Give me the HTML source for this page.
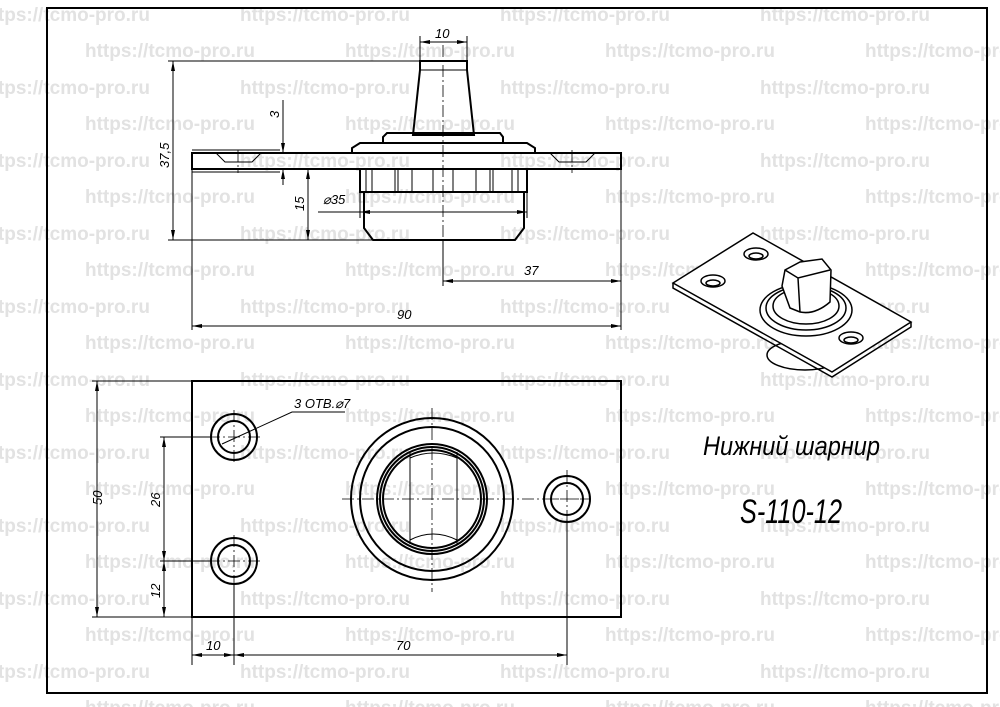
<!DOCTYPE html>
<html><head><meta charset="utf-8"><style>
html,body{margin:0;padding:0;background:#fff;}
svg{display:block;}
.l{stroke:#000;stroke-width:2;fill:none;}
.t{stroke:#000;stroke-width:1;fill:none;}
.c{stroke:#000;stroke-width:0.8;fill:none;stroke-dasharray:12 3 2 3;}
.d{font-family:"Liberation Sans",sans-serif;font-style:italic;font-size:13px;fill:#000;}
</style></head><body>
<svg width="1000" height="707" viewBox="0 0 1000 707" xmlns="http://www.w3.org/2000/svg">
<defs>
<pattern id="wm" patternUnits="userSpaceOnUse" x="0" y="0" width="260" height="73">
<text x="85" y="57" font-family="Liberation Sans,sans-serif" font-weight="bold" font-size="19" fill="#e2e2e2">https://tcmo-pro.ru</text>
<text x="-20" y="21" font-family="Liberation Sans,sans-serif" font-weight="bold" font-size="19" fill="#e2e2e2">https://tcmo-pro.ru</text>
<text x="240" y="21" font-family="Liberation Sans,sans-serif" font-weight="bold" font-size="19" fill="#e2e2e2">https://tcmo-pro.ru</text>
</pattern>
<marker id="a" viewBox="0 0 10 6" refX="10" refY="3" markerWidth="10" markerHeight="6" orient="auto-start-reverse" markerUnits="userSpaceOnUse"><path d="M0,1 L10,3 L0,5z" fill="#000"/></marker>
</defs>
<rect x="0" y="0" width="1000" height="707" fill="url(#wm)"/>
<rect x="47" y="8" width="940" height="685" class="l"/>

<!-- TOP VIEW -->
<rect x="192" y="153" width="429" height="16" class="l"/>
<path class="t" d="M216,153 L225,162 L252,162 L261,153 M550,153 L559,162 L586,162 L595,153"/>
<path class="c" d="M238,150 V173 M572,150 V173"/>
<path class="l" d="M420,61 H467 V70 L474,135 H413 L420,70 Z"/>
<line x1="420" y1="70" x2="467" y2="70" class="t"/>
<path class="l" d="M383,143 V137 L387,133 H500 L503,137 V143"/>
<path class="l" d="M352,153 V148 L360,143 H527 L535,148 V153"/>
<line x1="383" y1="143" x2="503" y2="143" class="t"/>
<rect x="360" y="169" width="167" height="23" class="l"/>
<path class="t" d="M366,169V192 M372,169V192 M395,169V192 M398,169V192 M412,169V192 M433,169V192 M453,169V192 M476,169V192 M490,169V192 M493,169V192 M512,169V192 M518,169V192"/>
<path class="l" d="M364,192 V228 L373,240 H515 L524,228 V192"/>
<path class="c" d="M443,45 V270"/>
<path class="t" d="M420,60 V36 M467,60 V36 M168,61 H420 M168,240 H372 M192,170 V330 M621,170 V330 M443,240 V286 M360,192 V218 M527,192 V218 M280,150 H192 M280,172 H192 M305,240 H300"/>
<line x1="420" y1="42" x2="467" y2="42" class="t" marker-start="url(#a)" marker-end="url(#a)"/>
<line x1="173" y1="61" x2="173" y2="240" class="t" marker-start="url(#a)" marker-end="url(#a)"/>
<line x1="283" y1="100" x2="283" y2="153" class="t" marker-end="url(#a)"/>
<line x1="283" y1="185" x2="283" y2="169" class="t" marker-end="url(#a)"/>
<line x1="308" y1="169" x2="308" y2="240" class="t" marker-start="url(#a)" marker-end="url(#a)"/>
<line x1="318" y1="212" x2="527" y2="212" class="t" marker-end="url(#a)"/>
<path d="M360,212 l10,-2 v4z" fill="#000"/>
<line x1="443" y1="281" x2="621" y2="281" class="t" marker-start="url(#a)" marker-end="url(#a)"/>
<line x1="192" y1="326" x2="621" y2="326" class="t" marker-start="url(#a)" marker-end="url(#a)"/>
<text class="d" x="435" y="38">10</text>
<text class="d" transform="translate(169,168) rotate(-90)">37,5</text>
<text class="d" transform="translate(279,118) rotate(-90)">3</text>
<text class="d" transform="translate(304,211) rotate(-90)">15</text>
<text class="d" x="323" y="204">⌀35</text>
<text class="d" x="524" y="275">37</text>
<text class="d" x="397" y="319">90</text>

<!-- BOTTOM VIEW -->
<rect x="192" y="381" width="429" height="236" class="l"/>
<g class="l">
<circle cx="234" cy="437" r="23"/><circle cx="234" cy="437" r="16"/>
<circle cx="234" cy="561" r="23"/><circle cx="234" cy="561" r="16"/>
<circle cx="567" cy="499" r="23"/><circle cx="567" cy="499" r="16"/>
<circle cx="432" cy="499" r="81"/><circle cx="432" cy="499" r="72"/>
<circle cx="432" cy="499" r="55"/><circle cx="432" cy="499" r="52"/>
<circle cx="432" cy="499" r="49"/>
</g>
<path class="t" d="M410,452 V544 M457,452 V544 M410,458 Q433,448 457,458 M410,540 Q433,528 457,540"/>
<path class="c" d="M342,499 H590 M432,408 V592 M208,437 H262 M208,561 H262 M234,410 V465 M234,535 V590 M545,499 H585 M567,470 V527"/>
<path class="t" d="M160,437 H210 M160,561 H210 M92,381 H192 M92,617 H192 M234,585 V665 M567,520 V665 M192,617 V665"/>
<line x1="97" y1="381" x2="97" y2="617" class="t" marker-start="url(#a)" marker-end="url(#a)"/>
<line x1="164" y1="437" x2="164" y2="561" class="t" marker-start="url(#a)" marker-end="url(#a)"/>
<line x1="164" y1="561" x2="164" y2="617" class="t" marker-start="url(#a)" marker-end="url(#a)"/>
<line x1="192" y1="655" x2="234" y2="655" class="t" marker-start="url(#a)" marker-end="url(#a)"/>
<line x1="234" y1="655" x2="567" y2="655" class="t" marker-start="url(#a)" marker-end="url(#a)"/>
<path class="t" d="M345,412 H292 L222,444"/>
<text class="d" x="294" y="408">3 ОТВ.⌀7</text>
<text class="d" transform="translate(102,505) rotate(-90)">50</text>
<text class="d" transform="translate(160,507) rotate(-90)">26</text>
<text class="d" transform="translate(160,598) rotate(-90)">12</text>
<text class="d" x="206" y="650">10</text>
<text class="d" x="396" y="650">70</text>

<!-- ISO VIEW -->
<g stroke="#000" stroke-width="1.5" fill="none">
<ellipse cx="805" cy="355" rx="38" ry="15"/>
<path d="M673,283 L753,233 L911,322 L832,372 Z" fill="#fff"/>
<path d="M673,283 L673,288 L832,377 L911,327 L911,322"/>
<ellipse cx="713" cy="281" rx="12" ry="6"/><ellipse cx="713" cy="283" rx="7" ry="3"/>
<ellipse cx="756" cy="254" rx="12" ry="6"/><ellipse cx="756" cy="256" rx="7" ry="3"/>
<ellipse cx="851" cy="338" rx="12" ry="6"/><ellipse cx="851" cy="340" rx="7" ry="3"/>
<ellipse cx="806" cy="310" rx="46" ry="26" fill="#fff"/>
<ellipse cx="806" cy="308" rx="40" ry="22"/>
<ellipse cx="806" cy="306" rx="33" ry="18"/>
<path d="M782,286 L785,270 L800,262 L822,259 L831,270 L830,302 Q815,315 800,312 L790,308 Z" fill="#fff"/>
<path d="M785,270 L798,278 L830,270 M798,278 L800,312"/>
</g>

<text x="703" y="455" textLength="177" lengthAdjust="spacingAndGlyphs" font-family="Liberation Sans,sans-serif" font-style="italic" font-size="27" fill="#000">Нижний шарнир</text>
<text x="740" y="523" textLength="102" lengthAdjust="spacingAndGlyphs" font-family="Liberation Sans,sans-serif" font-style="italic" font-size="34" fill="#000">S-110-12</text>
</svg>
</body></html>
